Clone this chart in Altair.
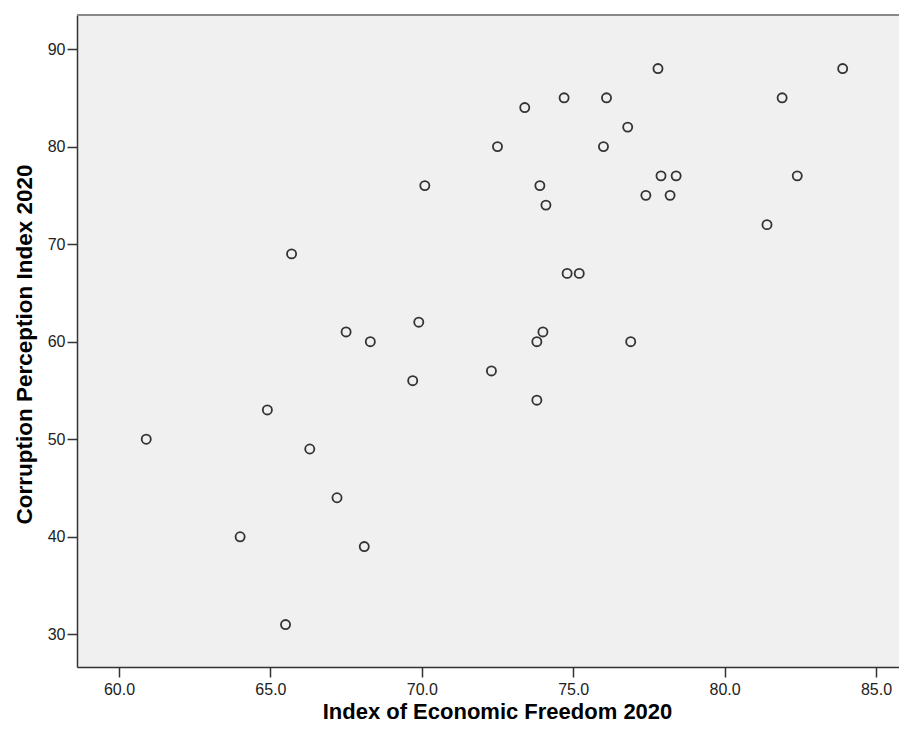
import altair as alt
import pandas as pd

# Index of Economic Freedom 2020 (x) and Corruption Perception Index 2020 (y)
efi = [60.9, 64.0, 64.9, 65.5, 65.7, 66.3, 67.2, 67.5, 68.1, 68.3,
       69.7, 69.9, 70.1, 72.3, 72.5, 73.4, 73.8, 73.8, 73.9, 74.0,
       74.1, 74.7, 74.8, 75.2, 76.0, 76.1, 76.8, 76.9, 77.4, 77.8,
       77.9, 78.2, 78.4, 81.4, 81.9, 82.4, 83.9]
cpi = [50, 40, 53, 31, 69, 49, 44, 61, 39, 60,
       56, 62, 76, 57, 80, 84, 60, 54, 76, 61,
       74, 85, 67, 67, 80, 85, 82, 60, 75, 88,
       77, 75, 77, 72, 85, 77, 88]

x_ticks = [60, 65, 70, 75, 80, 85]
y_ticks = [30, 40, 50, 60, 70, 80, 90]

df = pd.DataFrame({"efi": efi, "cpi": cpi})

W, H = 822, 652
FONT = "Liberation Sans"

points = alt.Chart(df).mark_point(
    shape="circle", filled=False, size=83, strokeWidth=1.8,
    color="#333333", opacity=1
).encode(
    x=alt.X("efi:Q",
            scale=alt.Scale(domain=[58.613, 85.76], nice=False, zero=False),
            axis=alt.Axis(values=x_ticks, format=".1f", grid=False,
                          title="Index of Economic Freedom 2020",
                          tickSize=10, tickColor="#333333", tickWidth=1.5,
                          domainColor="#333333", domainWidth=1.5,
                          labelFont=FONT, labelFontSize=16, labelColor="#222222",
                          labelPadding=4,
                          titleFont=FONT, titleFontSize=22, titleFontWeight="bold",
                          titleColor="#000000", titleX=420, titleY=51,
                          titleBaseline="alphabetic", titleAlign="center")),
    y=alt.Y("cpi:Q",
            scale=alt.Scale(domain=[26.65, 93.49], nice=False, zero=False),
            axis=alt.Axis(values=y_ticks, grid=False,
                          title="Corruption Perception Index 2020",
                          tickSize=10, tickColor="#333333", tickWidth=1.5,
                          domainColor="#333333", domainWidth=1.5,
                          labelFont=FONT, labelFontSize=16, labelColor="#222222",
                          labelPadding=2,
                          titleFont=FONT, titleFontSize=22.5, titleFontWeight="bold",
                          titleColor="#000000", titleX=-46, titleY=329,
                          titleBaseline="alphabetic", titleAlign="center",
                          titleAngle=270)),
)

top_line = alt.Chart(df).mark_rule(color="#888888", strokeWidth=2).encode(
    x=alt.value(0), x2=alt.value(W), y=alt.value(0)
)

chart = alt.layer(points, top_line).properties(
    width=W, height=H,
    autosize=alt.AutoSizeParams(type="none"),
    padding={"left": 69, "top": 7, "right": 0, "bottom": 58},
    background="white",
).configure_view(stroke=None, fill="#F0F0F0")

chart.save("out.html", embed_options={"renderer": "svg", "actions": False})
